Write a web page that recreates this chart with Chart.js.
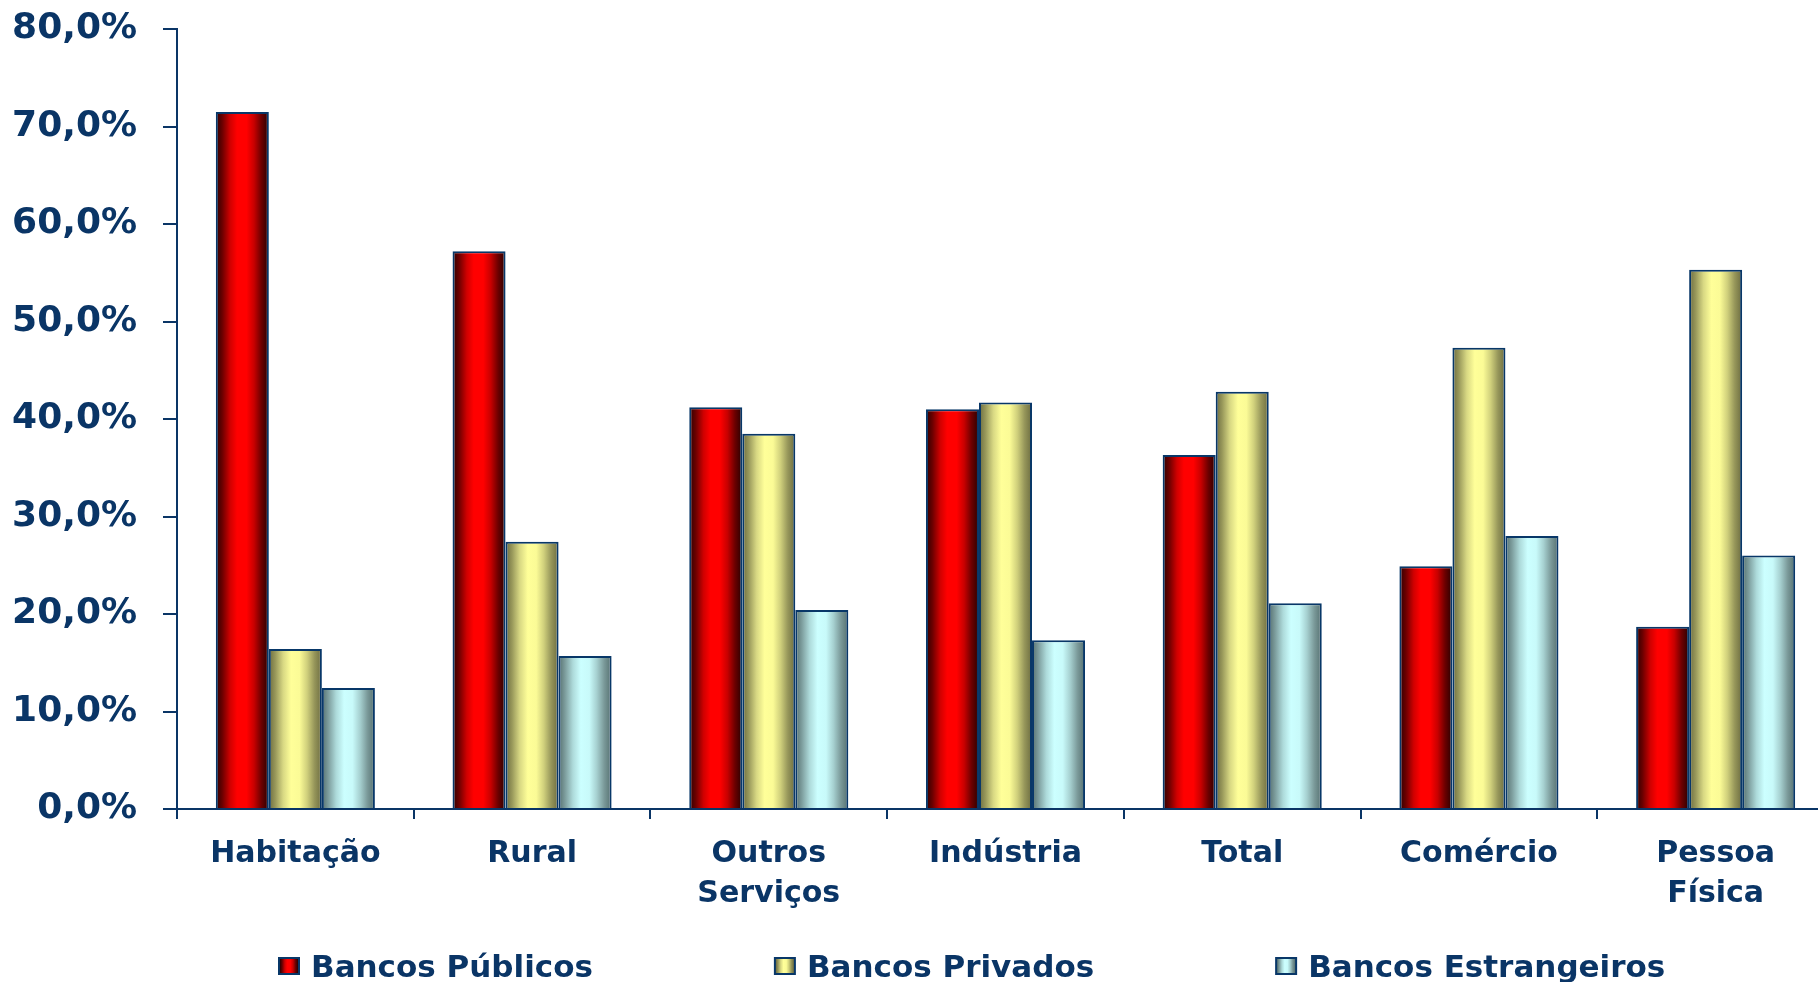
<!DOCTYPE html>
<html>
<head>
<meta charset="utf-8">
<script src="https://cdn.jsdelivr.net/npm/chart.js@4/dist/chart.umd.min.js"></script>
<style>
  html, body { margin: 0; padding: 0; background: #ffffff; overflow: hidden; width: 1818px; height: 982px; }
  #wrap { position: absolute; left: 0; top: 0; width: 1834px; height: 982px; }
</style>
</head>
<body>
<div id="wrap"><canvas id="c" width="1834" height="982"></canvas></div>
<script>
// Credit share by segment and type of bank (%)
const categories = ['Habitação', 'Rural', ['Outros', 'Serviços'], 'Indústria', 'Total', 'Comércio', ['Pessoa', 'Física']];
const seriesNames = ['Bancos Públicos', 'Bancos Privados', 'Bancos Estrangeiros'];
const bancosPublicos     = [71.5, 57.2, 41.2, 41.0, 36.3, 24.9, 18.7];
const bancosPrivados     = [16.4, 27.4, 38.5, 41.7, 42.8, 47.3, 55.3];
const bancosEstrangeiros = [12.4, 15.7, 20.4, 17.3, 21.1, 28.0, 26.0];
const yTickValues = [0, 10, 20, 30, 40, 50, 60, 70, 80];

// Styling
const NAVY = '#0a3566';
const BAR_BORDER = '#083768';
const FONT = '"DejaVu Sans", "Liberation Sans", Arial, sans-serif';
const CATEGORY_PCT = 0.672;

// Cylinder-like horizontal shading for each series: [offset, colour]
const SHADES = [
  [[0, '#2c0000'], [0.12, '#6a0000'], [0.27, '#d00000'], [0.4, '#ff0000'], [0.58, '#ff0000'], [0.72, '#c80000'], [0.86, '#6c0000'], [1, '#280000']],
  [[0, '#6c6c40'], [0.12, '#97975a'], [0.27, '#d8d883'], [0.42, '#ffff99'], [0.58, '#fbfb96'], [0.72, '#d0d07c'], [0.86, '#96965a'], [1, '#6c6c40']],
  [[0, '#557070'], [0.12, '#7c9c9c'], [0.27, '#addada'], [0.42, '#ccffff'], [0.58, '#c8fafa'], [0.72, '#a6d0d0'], [0.86, '#7a9999'], [1, '#557070']]
];

function makeGradient(ctx, x0, x1, stops) {
  const g = ctx.createLinearGradient(x0, 0, x1, 0);
  stops.forEach(([o, col]) => g.addColorStop(o, col));
  return g;
}

// Gradient for a bar, placed across the bar's own horizontal extent on the category scale
function barFill(seriesIndex) {
  return (c) => {
    const stops = SHADES[seriesIndex];
    const chart = c.chart;
    const x = chart.scales && chart.scales.x;
    if (c.type !== 'data' || !x || !chart.chartArea) return stops[3][1];
    const n = chart.data.datasets.length;
    const catW = x.width / chart.data.labels.length;
    const groupW = catW * CATEGORY_PCT;
    const bw = groupW / n;
    const left = x.getPixelForValue(c.dataIndex) - groupW / 2 + c.datasetIndex * bw;
    return makeGradient(chart.ctx, left, left + bw, stops);
  };
}

// Single-row legend drawn under the axis
const legendRow = {
  id: 'legendRow',
  afterDraw(chart, args, opts) {
    const ctx = chart.ctx;
    ctx.save();
    ctx.font = `bold ${opts.fontSize}px ${FONT}`;
    ctx.textBaseline = 'alphabetic';
    ctx.textAlign = 'left';
    let x = opts.left;
    chart.data.datasets.forEach((ds, i) => {
      const by = opts.boxTop;
      ctx.fillStyle = BAR_BORDER;
      ctx.fillRect(x, by, opts.boxW, opts.boxH);
      ctx.fillStyle = makeGradient(ctx, x + 2, x + opts.boxW - 2, SHADES[i]);
      ctx.fillRect(x + 2, by + 2, opts.boxW - 4, opts.boxH - 4);
      const tx = x + opts.boxW + opts.textGap;
      ctx.fillStyle = opts.color;
      ctx.fillText(ds.label, tx, opts.baseline);
      x = tx + ctx.measureText(ds.label).width + opts.itemGap;
    });
    ctx.restore();
  }
};

const seriesData = [bancosPublicos, bancosPrivados, bancosEstrangeiros];

new Chart(document.getElementById('c'), {
  type: 'bar',
  data: {
    labels: categories,
    datasets: seriesData.map((values, i) => ({
      label: seriesNames[i],
      data: values,
      backgroundColor: barFill(i),
      borderColor: BAR_BORDER,
      borderWidth: 2,
      borderSkipped: 'start',
      categoryPercentage: CATEGORY_PCT,
      barPercentage: 1.0
    }))
  },
  options: {
    responsive: false,
    animation: false,
    events: [],
    devicePixelRatio: 1,
    layout: { padding: { top: 29, left: 0, right: 0, bottom: 73 } },
    plugins: {
      legend: { display: false },
      tooltip: { enabled: false },
      legendRow: {
        left: 278, boxTop: 957, boxW: 22, boxH: 18, textGap: 11, itemGap: 181,
        baseline: 977, fontSize: 31, color: NAVY
      }
    },
    scales: {
      x: {
        offset: true,
        grid: { display: true, offset: true, drawOnChartArea: false, drawTicks: true, tickLength: 10, color: NAVY, lineWidth: 2 },
        border: { display: true, color: NAVY, width: 2 },
        ticks: {
          color: NAVY,
          padding: 15,
          maxRotation: 0,
          autoSkip: false,
          font: { family: FONT, size: 30, weight: 'bold', lineHeight: 1.33 }
        },
        afterFit: (s) => { s.height = 100; }
      },
      y: {
        min: 0,
        max: 80,
        afterBuildTicks: (s) => { s.ticks = yTickValues.map(v => ({ value: v })); },
        grid: { display: true, drawOnChartArea: false, drawTicks: true, tickLength: 14, color: NAVY, lineWidth: 2 },
        border: { display: true, color: NAVY, width: 2 },
        ticks: {
          color: NAVY,
          padding: 26,
          font: { family: FONT, size: 36, weight: 'bold' },
          callback: (v) => Number(v).toFixed(1).replace('.', ',') + '%'
        },
        afterFit: (s) => { s.width = 177; s.paddingTop = 0; s.paddingBottom = 0; }
      }
    }
  },
  plugins: [legendRow]
});
</script>
</body>
</html>
